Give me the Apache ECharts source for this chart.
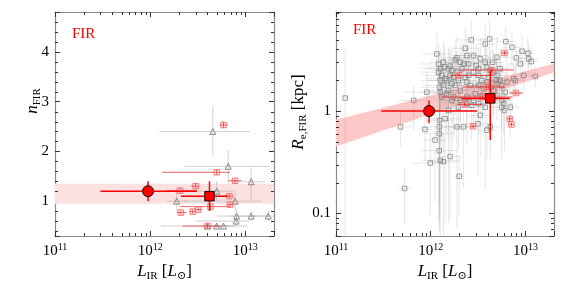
<!DOCTYPE html>
<html><head><meta charset="utf-8">
<script src="https://cdn.jsdelivr.net/npm/echarts@6/dist/echarts.min.js"></script>
<style>html,body{margin:0;padding:0;background:#fff}#c{width:586px;height:282px}</style>
</head><body><div id="c"></div>
<script>
// ---------- data ----------
// axis ranges
const xRange = [1e11, 2e13];
const nRange = [0.3, 4.8];
const rRange = [0.06, 9.3];
// minor tick positions
const xMinorTicks = [2e11,3e11,4e11,5e11,6e11,7e11,8e11,9e11,2e12,3e12,4e12,5e12,6e12,7e12,8e12,9e12,2e13];
const nMinorTicks = [0.4,0.6,0.8,1.2,1.4,1.6,1.8,2.2,2.4,2.6,2.8,3.2,3.4,3.6,3.8,4.2,4.4,4.6];
const rMinorTicks = [0.07,0.08,0.09,0.2,0.3,0.4,0.5,0.6,0.7,0.8,0.9,2,3,4,5,6,7,8,9];
const rTickLabels = {'-1':'0.1','0':'1'};

// left panel: [L, n, Llo, Lhi, nlo, nhi]
const nRedSmall = [
  [5.9e12,2.53,5.4e12,6.5e12,2.47,2.60],
  [5.0e12,1.58,1.34e12,6.9e12,1.53,1.63],
  [7.8e12,1.41,6.6e12,9.0e12,1.36,1.46],
  [3.0e12,1.30,2.7e12,3.3e12,1.25,1.35],
  [2.05e12,1.21,1.48e12,3.06e12,1.15,1.27],
  [6.8e12,1.10,6.0e12,7.5e12,1.05,1.15],
  [6.9e12,0.93,6.3e12,7.4e12,0.88,0.98],
  [4.3e12,0.89,2.05e12,6.9e12,0.84,0.94],
  [3.2e12,0.83,2.9e12,3.5e12,0.79,0.87],
  [2.8e12,0.79,2.6e12,3.0e12,0.75,0.83],
  [2.1e12,0.77,1.9e12,2.4e12,0.73,0.81],
  [4.0e12,0.50,2.2e12,5.5e12,0.46,0.54]
];
const nTriangles = [
  [4.55e12,2.40,1.25e12,1.12e13,1.93,2.92],
  [6.6e12,1.70,2.3e12,1.8e13,1.35,2.03],
  [1.15e13,1.39,7.0e12,1.6e13,1.03,1.67],
  [5.0e12,1.20,3.2e12,7.5e12,1.00,1.40],
  [1.9e12,1.00,1.5e12,2.5e12,0.80,1.25],
  [7.8e12,1.00,2.3e12,1.48e13,0.80,1.20],
  [8.1e12,0.70,5.0e12,1.3e13,0.60,0.82],
  [1.15e13,0.70,7.0e12,1.8e13,0.62,0.80],
  [1.74e13,0.70,1.2e13,2.0e13,0.60,0.82],
  [8.0e12,0.60,3.0e12,1.1e13,0.52,0.68],
  [4.0e12,0.50,1.3e12,1.05e13,0.44,0.56],
  [5.0e12,0.50,3.5e12,7.0e12,0.45,0.55],
  [5.9e12,0.50,4.5e12,8.0e12,0.45,0.55]
];
const nBigCircle = [[9.5e11,1.20,3.0e11,3.1e12,1.00,1.40]];
const nBigSquare = [[4.2e12,1.10,2.1e12,6.5e12,0.80,1.40]];
// band: [Lleft, lo, hi, Lright, lo, hi]
const nBand = [1e11,0.95,1.35, 2e13,0.95,1.35];

// right panel small red: [L, R, Llo, Lhi, Rlo, Rhi]
const rRedSmall = [
  [6.0e12,3.70,5.5e12,6.6e12,3.55,3.85],
  [4.4e12,2.52,2.05e12,7.5e12,2.42,2.62],
  [2.0e12,2.23,1.6e12,4.5e12,2.15,2.32],
  [3.9e12,1.72,2.15e12,6.1e12,1.66,1.78],
  [7.9e12,1.50,6.8e12,9.4e12,1.44,1.56],
  [3.5e12,1.37,1.3e12,7.3e12,1.32,1.42],
  [2.3e12,1.16,1.95e12,3.5e12,1.11,1.21],
  [2.8e12,0.71,2.6e12,3.0e12,0.68,0.74],
  [6.8e12,0.84,6.4e12,7.2e12,0.80,0.88],
  [7.1e12,0.74,6.8e12,7.4e12,0.71,0.77]
];
const rBigCircle = [[9.6e11,1.00,3.0e11,3.1e12,0.76,1.27]];
const rBigSquare = [[4.25e12,1.33,2.1e12,6.8e12,0.52,2.50]];
const rBand = [1e11,0.45,0.82, 2e13,2.40,2.90];

// right panel gray squares: [L, R, dexL, dexRlo, dexRhi]
const rGray = [
  [1.25e11,1.34,0.03,1.40,0.47],[5.3e11,0.175,0.06,0.35,0.20],[4.8e11,0.70,0.12,0.20,0.15],
  [6.6e11,1.27,0.15,0.30,0.15],[8.7e11,0.66,0.06,0.30,0.20],[9.9e11,0.31,0.20,0.50,0.30],
  [9.1e11,1.53,0.25,0.30,0.20],[1.11e12,0.52,0.12,0.60,0.30],[1.23e12,0.41,0.20,0.80,0.30],
  [1.26e12,0.33,0.20,0.80,0.30],[1.36e12,0.32,0.15,0.80,0.30],[1.60e12,0.36,0.12,0.60,0.30],
  [2.0e12,0.23,0.06,0.40,0.20],[1.23e12,0.60,0.15,0.90,0.30],[1.23e12,0.70,0.20,0.90,0.30],
  [1.24e12,0.81,0.15,0.80,0.30],[1.42e12,0.84,0.15,1.00,0.30],[1.54e12,1.01,0.20,1.10,0.30],
  [1.89e12,0.70,0.15,1.00,0.30],[2.22e12,0.70,0.10,0.60,0.30],[3.15e12,0.75,0.15,0.50,0.30],
  [3.92e12,0.65,0.10,0.30,0.20],[4.25e12,0.70,0.10,0.30,0.20],[3.33e12,0.91,0.12,0.40,0.25],
  [3.76e12,1.09,0.15,0.80,0.25],[5.6e12,1.09,0.10,0.50,0.20],[6.0e12,1.01,0.10,0.40,0.20],
  [1.67e12,1.27,0.20,0.50,0.30],[2.41e12,1.18,0.20,0.40,0.20],[1.96e12,1.09,0.15,0.40,0.20],
  [6.9e12,1.09,0.10,0.30,0.20],[5.9e12,1.18,0.10,0.30,0.20],[3.2e12,1.18,0.15,0.30,0.20],
  [2.83e12,1.27,0.20,0.30,0.20],
  [1.16e12,3.62,0.15,0.25,0.20],[2.67e12,4.96,0.15,0.20,0.20],[3.76e12,4.53,0.12,0.20,0.20],
  [4.18e12,5.07,0.10,0.25,0.20],[6.2e12,4.78,0.10,0.20,0.15],[7.2e12,4.21,0.10,0.20,0.15],
  [9.2e12,3.85,0.10,0.15,0.15],[1.06e13,3.68,0.08,0.15,0.15],[1.15e13,3.05,0.08,0.15,0.15],
  [1.27e13,2.18,0.06,0.10,0.10],[9.6e12,2.23,0.10,0.15,0.15],[7.8e12,1.99,0.10,0.15,0.15],
  [8.8e12,2.89,0.12,0.15,0.15],[1.08e13,3.24,0.10,0.15,0.15],[8.0e12,3.31,0.10,0.15,0.15],
  [5.0e12,3.36,0.12,0.20,0.20],[4.5e12,3.00,0.12,0.20,0.20],[3.76e12,3.00,0.15,0.20,0.20],
  [3.33e12,3.24,0.12,0.20,0.20],[3.02e12,2.79,0.15,0.20,0.20],[2.41e12,3.49,0.15,0.20,0.20],
  [2.31e12,4.11,0.15,0.20,0.20],[1.89e12,3.31,0.15,0.20,0.20],[1.81e12,3.17,0.20,0.20,0.20],
  [2.05e12,3.00,0.15,0.20,0.20],[2.51e12,2.89,0.15,0.20,0.20],[2.83e12,3.49,0.15,0.20,0.20],
  [1.36e12,3.00,0.15,0.20,0.20],[1.39e12,2.69,0.20,0.20,0.20],[1.26e12,2.59,0.20,0.25,0.20],
  [1.60e12,2.75,0.15,0.20,0.20],[1.67e12,2.49,0.20,0.20,0.20],[1.31e12,2.23,0.20,0.30,0.20],
  [1.26e12,1.99,0.20,0.30,0.20],[1.48e12,1.99,0.20,0.30,0.20],[1.24e12,1.71,0.20,0.40,0.20],
  [1.26e12,1.53,0.20,0.50,0.20],[1.54e12,1.59,0.20,0.40,0.20],[1.81e12,1.78,0.15,0.30,0.20],
  [1.96e12,1.99,0.15,0.30,0.20],[2.31e12,2.14,0.15,0.25,0.20],[2.41e12,1.92,0.15,0.25,0.20],
  [2.83e12,2.40,0.15,0.20,0.20],[3.2e12,2.23,0.12,0.20,0.20],[3.47e12,1.99,0.12,0.25,0.20],
  [4.08e12,2.14,0.12,0.20,0.20],[4.6e12,2.40,0.12,0.20,0.20],[5.0e12,2.23,0.12,0.20,0.20],
  [5.4e12,1.99,0.12,0.20,0.20],[5.6e12,1.78,0.12,0.25,0.20],[6.4e12,1.92,0.10,0.20,0.20],
  [7.5e12,2.07,0.10,0.15,0.15],[3.61e12,1.65,0.12,0.25,0.20],[4.6e12,1.59,0.12,0.25,0.20],
  [5.0e12,1.42,0.12,0.25,0.20],[5.6e12,1.27,0.12,0.30,0.20],[2.95e12,1.48,0.15,0.30,0.20],
  [2.41e12,1.37,0.15,0.30,0.20],[2.05e12,1.27,0.15,0.30,0.20],[1.74e12,1.37,0.15,0.40,0.20],
  [1.48e12,1.48,0.15,0.40,0.20],[1.31e12,1.37,0.20,0.50,0.20],[2.05e12,1.59,0.15,0.30,0.20],
  [2.61e12,1.78,0.12,0.25,0.20],[3.2e12,1.78,0.12,0.25,0.20],[3.92e12,1.92,0.12,0.20,0.20],
  [5.0e12,1.85,0.12,0.20,0.20],[1.21e12,2.40,0.20,0.25,0.20],[1.74e12,2.14,0.15,0.25,0.20],
  [2.13e12,2.59,0.15,0.20,0.20],[3.2e12,2.59,0.12,0.20,0.20],[3.92e12,2.69,0.12,0.20,0.20],
  [5.4e12,2.59,0.12,0.20,0.20],[6.1e12,1.53,0.10,0.20,0.20],[1.36e12,1.78,0.20,0.30,0.20],
  [1.60e12,2.23,0.15,0.25,0.20],[1.42e12,2.07,0.20,0.25,0.20],[1.54e12,2.59,0.20,0.20,0.20],
  [1.21e12,2.89,0.20,0.20,0.20],[1.67e12,1.85,0.15,0.30,0.20],[1.89e12,2.40,0.15,0.25,0.20],
  [2.22e12,2.89,0.15,0.20,0.20],[2.51e12,2.23,0.15,0.20,0.20],[4.25e12,2.49,0.12,0.20,0.20],
  [4.9e12,2.00,0.12,0.20,0.20],[4.3e12,1.71,0.12,0.20,0.20],[3.5e12,1.42,0.15,0.30,0.20],
  [2.7e12,1.14,0.15,0.35,0.20]
];

// ---------- chart ----------
const SERIF = '"Liberation Serif","DejaVu Serif",serif';
const chart = echarts.init(document.getElementById('c'), null, {renderer:'canvas'});
const FRAME = '#8a8a8a';
const TICK = '#333';

function isDecade(v){ const l=Math.log10(v); return Math.abs(l-Math.round(l))<1e-6; }
const supRich = {
  b:{fontFamily:SERIF,fontSize:15,color:'#000',lineHeight:18},
  s:{fontFamily:SERIF,fontSize:10,color:'#000',verticalAlign:'top',lineHeight:10,padding:[0,0,3,0]}
};
const nameRich = {
  i:{fontFamily:SERIF,fontSize:17,fontStyle:'italic',color:'#000',lineHeight:20},
  t:{fontFamily:SERIF,fontSize:17,color:'#000',lineHeight:20},
  sub:{fontFamily:SERIF,fontSize:11,color:'#000',verticalAlign:'bottom',lineHeight:12}
};
function xAxisDef(grid, pos){
  const bottom = pos==='bottom';
  return {
    gridIndex:grid, type:'log', logBase:10, min:xRange[0], max:xRange[1], position:pos,
    axisLine:{show:true,onZero:false,lineStyle:{color:FRAME,width:1.2}},
    axisTick:{show:true,inside:true,length:5,lineStyle:{color:TICK,width:1}},
    splitLine:{show:false}, minorTick:{show:false},
    axisLabel:{show:bottom,margin:6,formatter:v=>isDecade(v)?'{b|10}{s|'+Math.round(Math.log10(v))+'}':'',rich:supRich},
    name: bottom ? '{i|L}{sub|IR}{t| [}{i|L}{sub|\u2299}{t|]}' : '',
    nameLocation:'middle', nameGap:17, nameTextStyle:{rich:nameRich}
  };
}
function yAxisDef(grid, pos, kind){
  const left = pos==='left';
  const base = {
    gridIndex:grid, position:pos,
    axisLine:{show:true,onZero:false,lineStyle:{color:FRAME,width:1.2}},
    axisTick:{show:true,inside:true,length:5,lineStyle:{color:TICK,width:1}},
    splitLine:{show:false}, minorTick:{show:false}
  };
  if(kind==='n'){
    return Object.assign(base,{type:'value',min:nRange[0],max:nRange[1],splitNumber:5,
      axisLabel:{show:left,margin:6,fontFamily:SERIF,fontSize:15,color:'#000',
        formatter:v=>Math.abs(v-Math.round(v))<1e-6?String(Math.round(v)):''}});
  }
  return Object.assign(base,{type:'log',logBase:10,min:rRange[0],max:rRange[1],
    axisLabel:{show:left,margin:5,fontFamily:SERIF,fontSize:15,color:'#000',
      formatter:v=>{ if(!isDecade(v)) return ''; const k=String(Math.round(Math.log10(v))); return rTickLabels[k]||''; }}});
}

function errRender(color,width){
  return function(p,api){
    const x=api.value(0),y=api.value(1);
    const a=api.coord([api.value(2),y]), b=api.coord([api.value(3),y]);
    const c=api.coord([x,api.value(4)]), d=api.coord([x,api.value(5)]);
    const st={stroke:color,lineWidth:width};
    return {type:'group',children:[
      {type:'line',shape:{x1:a[0],y1:a[1],x2:b[0],y2:b[1]},style:st},
      {type:'line',shape:{x1:c[0],y1:c[1],x2:d[0],y2:d[1]},style:st}
    ]};
  };
}
function dexErrRender(color,width){
  return function(p,api){
    const x=api.value(0),y=api.value(1),dx=Math.pow(10,api.value(2));
    const a=api.coord([x/dx,y]), b=api.coord([x*dx,y]);
    const c=api.coord([x,y/Math.pow(10,api.value(3))]), d=api.coord([x,y*Math.pow(10,api.value(4))]);
    const st={stroke:color,lineWidth:width};
    return {type:'group',children:[
      {type:'line',shape:{x1:a[0],y1:a[1],x2:b[0],y2:b[1]},style:st},
      {type:'line',shape:{x1:c[0],y1:c[1],x2:d[0],y2:d[1]},style:st}
    ]};
  };
}
function bandRender(color){
  return function(p,api){
    const x0=api.value(0),l0=api.value(1),h0=api.value(2),x1=api.value(3),l1=api.value(4),h1=api.value(5);
    const pts=[api.coord([x0,l0]),api.coord([x1,l1]),api.coord([x1,h1]),api.coord([x0,h0])];
    return {type:'polygon',shape:{points:pts},style:{fill:color}};
  };
}
function xMinorRender(lo,hi){
  return function(p,api){
    const v=api.value(0); const a=api.coord([v,lo]), b=api.coord([v,hi]);
    const x=Math.round(a[0])+0.5;
    const st={stroke:TICK,lineWidth:1};
    return {type:'group',children:[
      {type:'line',shape:{x1:x,y1:a[1],x2:x,y2:a[1]-3},style:st},
      {type:'line',shape:{x1:x,y1:b[1],x2:x,y2:b[1]+3},style:st}]};
  };
}
function yMinorRender(lo,hi){
  return function(p,api){
    const v=api.value(1); const a=api.coord([lo,v]), b=api.coord([hi,v]);
    const y=Math.round(a[1])+0.5;
    const st={stroke:TICK,lineWidth:1};
    return {type:'group',children:[
      {type:'line',shape:{x1:a[0],y1:y,x2:a[0]+3,y2:y},style:st},
      {type:'line',shape:{x1:b[0],y1:y,x2:b[0]-3,y2:y},style:st}]};
  };
}
function cs(name,xi,yi,data,render,z,clip){
  return {name,type:'custom',xAxisIndex:xi,yAxisIndex:yi,data,renderItem:render,z:z||2,clip:clip!==false,silent:true};
}
function sc(name,xi,yi,data,symbol,size,fill,border,bw,z){
  return {name,type:'scatter',xAxisIndex:xi,yAxisIndex:yi,data:data.map(d=>[d[0],d[1]]),symbol,symbolSize:size,
    itemStyle:{color:fill,borderColor:border,borderWidth:bw,opacity:1},z:z||3,silent:true};
}

const option = {
  animation:false,
  backgroundColor:'#fff',
  grid:[{left:55,top:12,width:219,height:224,outerBoundsMode:'none',containLabel:false},
        {left:336,top:12,width:218,height:224,outerBoundsMode:'none',containLabel:false}],
  xAxis:[xAxisDef(0,'bottom'),xAxisDef(0,'top'),xAxisDef(1,'bottom'),xAxisDef(1,'top')],
  yAxis:[yAxisDef(0,'left','n'),yAxisDef(0,'right','n'),yAxisDef(1,'left','r'),yAxisDef(1,'right','r')],
  graphic:[
    {type:'text',left:72,top:27,style:{text:'FIR',fill:'#f00',font:'15px '+SERIF}},
    {type:'text',left:353,top:23,style:{text:'FIR',fill:'#f00',font:'15px '+SERIF}},
    {type:'text',x:33,y:101,rotation:Math.PI/2,style:{text:'{i|n}{sub|FIR}',rich:nameRich,align:'center',verticalAlign:'middle'}},
    {type:'text',x:299,y:112,rotation:Math.PI/2,style:{text:'{i|R}{sub|e,FIR}{t| [kpc]}',rich:nameRich,align:'center',verticalAlign:'middle'}}
  ],
  series:[
    // left panel
    cs('nBand',0,0,[nBand],bandRender('#fde0e0'),1),
    cs('nTriErr',0,0,nTriangles,errRender('rgba(170,170,170,0.55)',1),2),
    sc('nTri',0,0,nTriangles,'triangle',6,'rgba(255,255,255,0)','#808080',0.9,3),
    cs('nRedErr',0,0,nRedSmall,errRender('rgba(235,60,60,0.8)',1),4),
    sc('nRed',0,0,nRedSmall,'rect',5.5,'rgba(255,0,0,0.05)','#f66',0.9,5),
    cs('nBigErr',0,0,nBigCircle.concat(nBigSquare),errRender('#f00',1.5),6),
    sc('nBigC',0,0,nBigCircle,'circle',11,'#f00','#000',0.9,7),
    sc('nBigS',0,0,nBigSquare,'rect',9.5,'#f00','#000',0.9,7),
    cs('nXMinor',0,0,xMinorTicks.map(v=>[v,nRange[0]]),xMinorRender(nRange[0],nRange[1]),8,false),
    cs('nYMinor',0,0,nMinorTicks.map(v=>[xRange[0],v]),yMinorRender(xRange[0],xRange[1]),8,false),
    // right panel
    cs('rBand',2,2,[rBand],bandRender('#ffc8c8'),1),
    cs('rGrayErr',2,2,rGray,dexErrRender('rgba(140,140,140,0.28)',0.8),2),
    sc('rGray',2,2,rGray,'rect',4.5,'rgba(255,255,255,0)','#858585',0.8,3),
    cs('rRedErr',2,2,rRedSmall,errRender('rgba(240,40,40,0.85)',1),4),
    sc('rRed',2,2,rRedSmall,'rect',5.5,'rgba(255,0,0,0.05)','#f66',0.9,5),
    cs('rBigErr',2,2,rBigCircle.concat(rBigSquare),errRender('#f00',1.5),6),
    sc('rBigC',2,2,rBigCircle,'circle',11,'#f00','#000',0.9,7),
    sc('rBigS',2,2,rBigSquare,'rect',9.5,'#f00','#000',0.9,7),
    cs('rXMinor',2,2,xMinorTicks.map(v=>[v,rRange[0]]),xMinorRender(rRange[0],rRange[1]),8,false),
    cs('rYMinor',2,2,rMinorTicks.map(v=>[xRange[0],v]),yMinorRender(xRange[0],xRange[1]),8,false)
  ]
};
chart.setOption(option);
</script>
</body></html>
